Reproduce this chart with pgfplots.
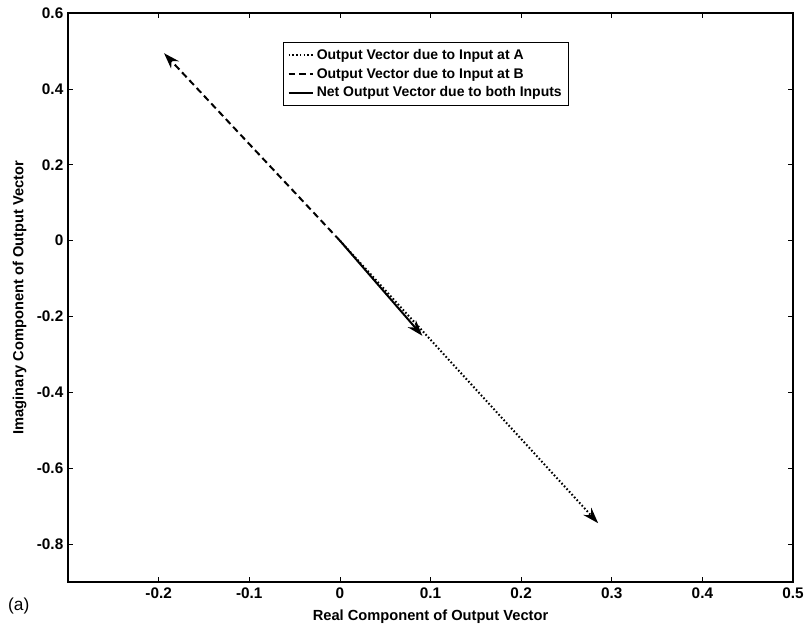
\documentclass[border=0pt]{standalone}
\usepackage{fontspec}
\setmainfont{Liberation Sans}
\usepackage{pgfplots}
\pgfplotsset{compat=1.18}
\usetikzlibrary{arrows.meta}
\begin{document}
\begin{tikzpicture}
\useasboundingbox (-51pt,-38.25pt) rectangle (553.5pt,436.5pt);
\begin{axis}[
  at={(0,0)}, anchor=south west,
  scale only axis,
  clip=false,
  width=543.75pt, height=426.75pt,
  xmin=-0.3, xmax=0.5, ymin=-0.9, ymax=0.6,
  xtick={-0.2,-0.1,0,0.1,0.2,0.3,0.4,0.5},
  xticklabels={-0.2,-0.1,0,0.1,0.2,0.3,0.4,0.5},
  ytick={-0.8,-0.6,-0.4,-0.2,0,0.2,0.4,0.6},
  yticklabels={-0.8,-0.6,-0.4,-0.2,0,0.2,0.4,0.6},
  tick align=inside,
  major tick length=4pt,
  tick style={black, line width=0.5pt},
  axis line style={line width=0.8pt},
  tick label style={font=\bfseries\fontsize{11.5}{13}\selectfont},
  xticklabel style={yshift=-1pt},
  xlabel={Real Component of Output Vector},
  ylabel={Imaginary Component of Output Vector},
  label style={font=\bfseries\fontsize{11}{13}\selectfont},
  xlabel style={yshift=-1pt},
  ylabel style={yshift=1pt},
  legend style={at={(0.297,0.949)}, anchor=north west, font=\bfseries\fontsize{10.5}{12}\selectfont,
    draw=black, line width=0.6pt, inner sep=3pt, row sep=1pt},
  legend cell align=left,
  legend image code/.code={\draw[#1, -, line width=1.3pt] (0cm,0cm) -- (0.65cm,0cm);},
]
\addplot[black, line width=1.5pt, dash pattern=on 1.2pt off 1.6pt, -{Stealth[length=12pt,width=8pt]}] coordinates {(0,0) (0.285,-0.745)};
\addlegendentry{Output Vector due to Input at A}
\addplot[black, line width=1.5pt, dash pattern=on 5pt off 3pt, -{Stealth[length=12pt,width=8pt]}] coordinates {(0,0) (-0.194,0.494)};
\addlegendentry{Output Vector due to Input at B}
\addplot[black, line width=1.5pt, -{Stealth[length=12pt,width=8pt]}] coordinates {(0,0) (0.091,-0.251)};
\addlegendentry{Net Output Vector due to both Inputs}
\node[font=\fontsize{13}{15}\selectfont, anchor=center] at (rel axis cs:-0.068,-0.042) {(a)};
\end{axis}
\end{tikzpicture}
\end{document}
